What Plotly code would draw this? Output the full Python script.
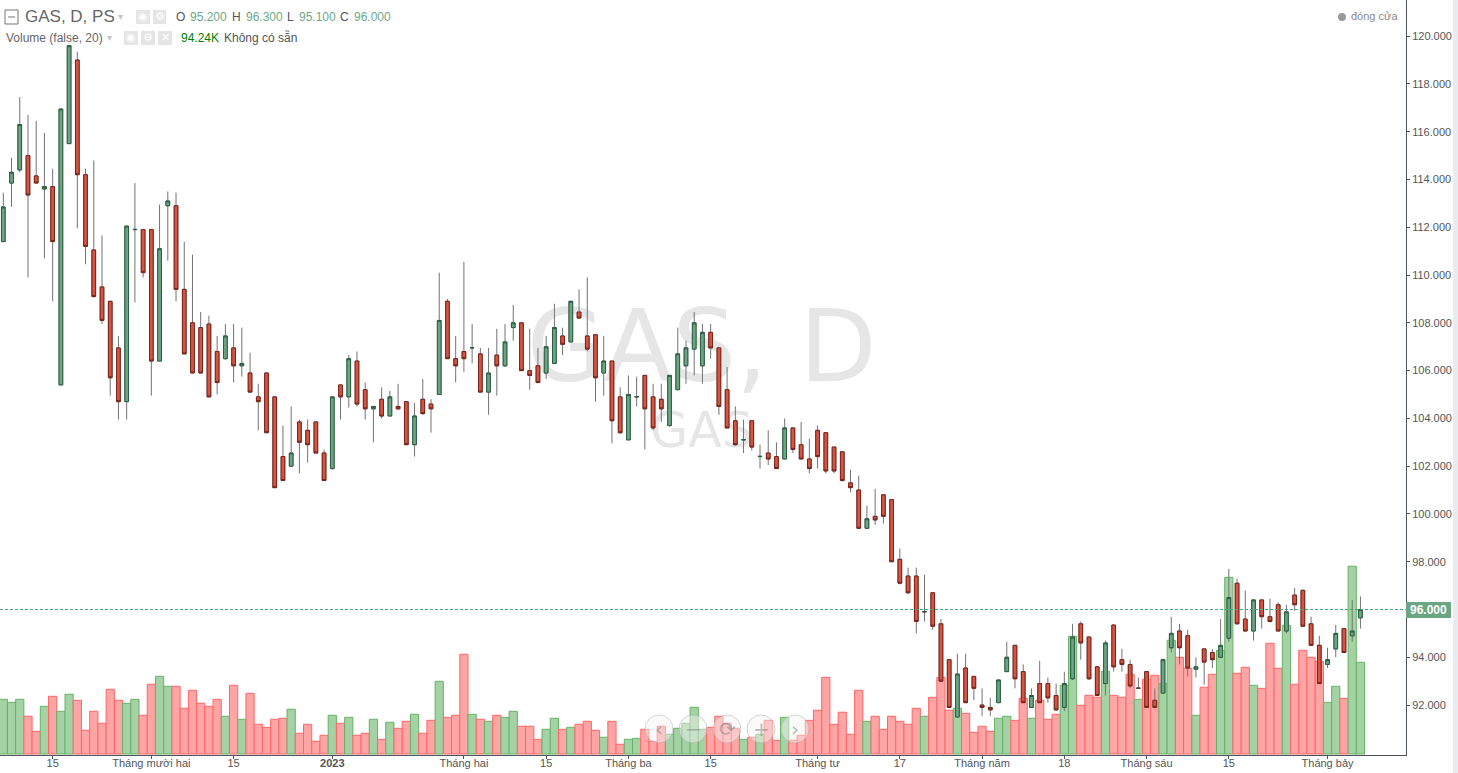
import plotly.graph_objects as go

opens = [111.4,113.85,114.4,115,114.15,113.6,113.7,105.4,115.5,119,
114.2,111.05,109.5,108.9,106.95,104.7,111.9,111.9,111.9,106.4,
112.9,112.9,109.4,108,107.8,107.95,106.8,106.5,106.95,106.2,
105.9,104.9,105.9,104.9,102.4,102,103.85,103.5,103.85,102.55,
101.9,105.4,104.9,106.4,105.2,104.4,104.8,104.1,104.5,104.7,
102.9,104.8,104.6,105,108.9,106.5,106.8,106.95,106.7,105.1,
106.65,106.2,107.8,108,106,106.2,105.9,106.3,107.45,107.2,
108.45,107.45,107.5,105.9,106.4,104.9,103.1,104.9,105.8,104.9,
104.8,103.7,105.2,106.2,106.9,106.2,107.6,106.95,105.2,103.9,
103.1,103.9,102.4,102.55,102.4,102.3,103.6,102.9,102.3,103.5,
103.4,102.8,102.6,101.3,101,99.4,99.9,100.8,100.6,98.1,
97.4,97.4,95.9,96.7,95.4,93.9,91.5,93.55,93.2,92,
91.9,92.1,93.4,94.5,93.4,91.9,92.9,92.9,92.4,91.9,
93.1,95.4,94.85,93.6,92.9,95.35,93.9,93.7,92.7,93.4,
92.2,92.5,94.4,95.1,94.9,93.5,94.35,94.2,94,94.8,
97.1,95.6,95.1,96.4,95.7,96.2,95.1,96.6,96.8,95.4,
94.5,93.7,94.35,95.2,94.9,95.65]

highs = [113.45,114.9,117.45,116.7,116.45,115.95,114.45,116.95,119.6,119.35,
114.45,114.8,111.65,108.9,107.45,112.05,113.85,111.9,111.9,112.95,
113.5,113.45,111.4,110.85,108.45,108.3,107.45,107.95,107.95,107.8,
106.75,105.45,105.9,104.9,103.7,104.5,103.95,103.95,103.85,102.7,
104.9,105.4,106.65,106.8,105.5,104.5,105.3,105.15,105.45,104.7,
104.65,105.65,104.8,110.1,109,107.45,110.55,107.95,106.95,106.95,
107.75,107.95,108.75,108,107.75,106.95,107.45,108.8,107.8,108.9,
109.4,109.9,107.5,107.45,106.4,105.3,105.8,105.75,105.8,105.45,
105.45,105.8,107.8,107.25,108.45,107.95,107.95,106.95,106.15,104.5,
103.95,103.9,102.9,103.5,103,104,103.6,103.85,103.15,103.7,
103.4,102.8,102.6,101.85,101.6,100.35,101.05,100.8,100.6,98.55,
97.75,97.75,97.45,96.7,95.6,93.9,94.15,94.15,93.2,92.7,
92.3,93.05,94.65,94.5,93.7,92.7,93.85,93.15,92.9,93.4,
95.4,95.5,94.85,93.6,94.7,95.35,94.35,93.9,93.15,93.4,
92.7,93.9,95.7,95.4,95.15,94,94.35,94.35,95.6,97.7,
97.3,96.8,96.4,96.4,96.45,96.3,96.2,96.9,96.85,95.7,
94.9,94.4,95.35,95.2,96.4,96.55]

lows = [111.4,112.85,114.3,109.9,113.85,110.7,108.9,105.4,115.5,111.95,
110.45,109.05,107.95,104.95,103.95,103.95,108.85,109.9,104.95,106.4,
110.6,108.9,106.7,105.9,105.9,104.9,105,106.45,105.5,105.75,
105.1,103.5,103.4,101.1,101.4,102,101.7,102.15,102.55,101.4,
101.85,103.95,104.45,104.5,103.95,103,104,104.1,104.35,102.9,
102.4,104.15,103.4,105,106.5,105.5,105.95,106.3,105.1,104.15,
104.95,106.15,107.25,106,105.2,105.5,105.65,106.3,106.65,107.2,
108.2,106.8,104.7,104.95,102.95,103.35,103.1,104.5,102.7,103.5,
103.85,103.65,105.2,105.45,105.8,105.45,106.5,104.15,103.6,102.85,
102.55,102.65,101.9,102.05,101.9,102.3,102.55,102.3,101.7,101.9,
101.7,101.7,101.35,100.9,99.4,99.4,99.55,99.6,98,97.05,
96.65,95,95.5,95.15,93,91.9,91.5,92.1,92.2,91.55,
91.55,92.1,93.4,92.7,92.1,91.9,92.1,92.1,91.75,91.75,
93.05,93.9,93.05,92.4,92.4,93.4,93.4,92.7,92.7,91.9,
91.9,92.5,94.2,93.7,93.2,93.15,92.85,93.55,94,94.65,
95.4,95.1,94.7,95.2,95.45,95.1,95,95.95,95.3,94.5,
92.9,93.55,94,94.2,94.65,95.2]

closes = [112.85,114.3,116.3,113.35,113.85,113.7,111.4,116.95,119.6,114.2,
111.2,109.1,108.1,105.7,104.7,112.05,111.91,110.1,106.4,111.1,
113.1,109.4,106.7,105.9,105.9,104.9,105.5,107.45,106.2,106.3,
105.1,104.7,103.4,101.1,101.4,102.55,103,102.9,102.55,101.4,
104.9,104.9,106.5,104.6,104.4,104.5,104.1,104.9,104.4,102.9,
104.1,104.2,104.4,108.1,106.5,106.2,106.5,106.96,105.1,105.9,
106.2,107.2,108,106,105.8,105.5,107,107.8,107.1,108.9,
108.2,106.9,105.7,106.4,103.9,103.4,105,104.91,104.4,103.6,
104.4,105.8,106.7,106.95,108,107.6,106.95,104.5,103.6,102.9,
103.11,102.8,102.41,102.3,101.9,103.6,102.7,102.3,101.9,102.4,
101.8,101.8,101.4,101.1,99.4,99.8,99.75,99.9,98,97.1,
96.7,95.5,95.91,95.3,93,91.9,93.3,92.1,92.7,91.9,
91.8,93.05,94,93.1,92.1,92.4,92.1,92.3,91.8,92.9,
94.85,94.6,93.1,92.4,94.6,93.6,93.7,92.8,92.71,91.9,
91.9,93.9,95,94.4,93.55,93.6,93.8,93.9,94.5,96.5,
95.4,95.1,96.4,95.7,95.5,95.1,95.9,96.2,95.3,94.5,
92.9,93.9,95,94.2,95.1,96]

volumes_k = [56.2,53.1,56.2,38.8,23.3,49.0,59.3,43.9,61.4,55.2,
24.4,43.9,31.6,66.5,55.2,52.1,56.2,39.8,71.7,79.9,
69.6,69.6,47.0,65.5,52.1,49.0,56.2,38.8,70.6,35.7,
62.4,30.5,27.4,35.7,36.7,46.0,21.3,30.5,13.1,19.2,
39.8,31.6,37.7,19.2,21.3,35.7,15.1,32.6,26.4,33.6,
40.8,21.3,34.6,74.7,37.7,39.8,102.5,40.8,35.7,33.6,
39.8,37.7,43.9,28.5,28.5,15.1,25.4,36.7,25.4,27.4,
30.5,33.6,24.4,17.2,33.6,10.0,15.1,16.1,25.4,13.1,
28.5,20.3,26.4,31.6,48.0,25.4,27.4,38.8,31.6,26.4,
15.1,17.2,20.3,34.6,14.1,37.7,14.1,19.2,34.6,44.9,
78.8,30.5,42.9,20.3,65.5,33.6,38.8,25.4,38.8,33.6,
30.5,47.0,38.8,58.3,78.8,44.9,47.0,41.8,22.3,28.5,
23.3,36.7,38.8,34.6,57.3,36.7,55.2,35.7,40.8,70.6,
121.0,50.1,60.3,58.3,85.0,60.3,58.3,81.9,56.2,76.8,
80.9,72.7,116.9,99.4,88.1,39.8,68.6,81.9,106.6,181.6,
83.0,89.1,70.6,67.5,113.8,88.1,132.3,71.7,106.6,99.4,
95.3,53.1,69.6,57.3,193.0,94.24]

x_tick_pos = [6,18,28,40,56,66,76,86,99,109,119,129,139,149,161]
x_tick_text = ["15","Tháng mười hai","15","<b>2023</b>","Tháng hai","15","Tháng ba","15",
               "Tháng tư","17","Tháng năm","18","Tháng sáu","15","Tháng bảy"]
y_ticks = [92,94,98,100,102,104,106,108,110,112,114,116,118,120]
y_tick_text = [f"{v}.000" for v in y_ticks]
last_close = 96

W,H = 1458,773
PL,PR,PT,PB = 0,1406,0,755
FONT = "Liberation Sans"
def px(x): return (x-PL)/(PR-PL)
def py(y): return 1-(y-PT)/(PB-PT)

n = len(closes)
xs = list(range(n))
fig = go.Figure()

vol_fill = ["#a5d2a5" if c>=o else "#ffa5a5" for o,c in zip(opens,closes)]
vol_line = ["#66b266" if c>=o else "#ff6666" for o,c in zip(opens,closes)]
fig.add_trace(go.Scatter(x=[84.9],y=[409],mode="text",text=["GAS, D"],textposition="middle center",
    textfont=dict(family="DejaVu Sans",size=100,color="#e6e6e6"),hoverinfo="skip",showlegend=False,cliponaxis=False))
fig.add_trace(go.Scatter(x=[84.9],y=[328],mode="text",text=["GAS"],textposition="middle center",
    textfont=dict(family="DejaVu Sans",size=49,color="#e6e6e6"),hoverinfo="skip",showlegend=False,cliponaxis=False))
fig.add_trace(go.Bar(x=xs,y=volumes_k,width=1,marker=dict(color=vol_fill,line=dict(color=vol_line,width=1)),
    hoverinfo="skip",showlegend=False))

wick="#737375"
fig.add_trace(go.Candlestick(x=xs,open=opens,high=highs,low=lows,close=closes,yaxis="y2",whiskerwidth=0,
    increasing=dict(line=dict(color=wick,width=1),fillcolor=wick),
    decreasing=dict(line=dict(color=wick,width=1),fillcolor=wick),showlegend=False,hoverinfo="skip"))
body_hi=[max(o,c) for o,c in zip(opens,closes)]
body_lo=[min(o,c) for o,c in zip(opens,closes)]
fig.add_trace(go.Candlestick(x=xs,open=opens,high=body_hi,low=body_lo,close=closes,yaxis="y2",whiskerwidth=0,
    increasing=dict(line=dict(color="#2a5f41",width=1),fillcolor="#6ba583"),
    decreasing=dict(line=dict(color="#7a2318",width=1),fillcolor="#d75442"),showlegend=False))

shapes=[dict(type="line",xref="paper",x0=0,x1=1,yref="y2",y0=last_close,y1=last_close,
             line=dict(color="#4aa577",width=1,dash="3px,2px"))]
ann=[]
def T(x,y,s,size=12,color="#555555",anchor="left",family=FONT):
    ann.append(dict(xref="paper",yref="paper",x=px(x),y=py(y),text=s,showarrow=False,xanchor=anchor,yanchor="middle",
                    font=dict(family=family,size=size,color=color),borderpad=0))
def R(x0,y0,x1,y1,fill,line=None,kind="rect",lw=1):
    shapes.append(dict(type=kind,xref="paper",yref="paper",x0=px(x0),x1=px(x1),y0=py(y0),y1=py(y1),
                       fillcolor=fill,line=dict(color=line or "rgba(0,0,0,0)",width=lw)))
G="#6fa888"
DJ="DejaVu Sans"
T(24,17,"GAS, D, PS",17,"#666666")
R(5,10,18,24,"rgba(0,0,0,0)","#777777")
R(8,17,15,17,"rgba(0,0,0,0)","#777777",kind="line")
T(117,17,"▾",10,"#c4c4c4")
R(136,10,150,24,"#e5e5e5"); R(153,10,166,24,"#e5e5e5")
T(143,17,"◉",11,"#ffffff",anchor="center",family=DJ); T(159.5,17,"⚙",11,"#ffffff",anchor="center",family=DJ)
T(175,17,"O",12,"#555555"); T(189,17,"95.200",12,G)
T(231,17,"H",12,"#555555"); T(245,17,"96.300",12,G)
T(286,17,"L",12,"#555555"); T(298,17,"95.100",12,G)
T(339,17,"C",12,"#555555"); T(353,17,"96.000",12,G)
T(5,38,"Volume (false, 20)",12,"#666666")
T(106,38,"▾",10,"#c4c4c4")
R(124,31,138,45,"#e5e5e5"); R(141,31,155,45,"#e5e5e5"); R(158,31,172,45,"#e5e5e5")
T(131,38,"◉",11,"#ffffff",anchor="center",family=DJ); T(148,38,"⚙",11,"#ffffff",anchor="center",family=DJ)
T(165,38,"✕",11,"#ffffff",anchor="center",family=DJ)
T(180,38,"94.24K",12,"#008000"); T(223,38,"Không có sẵn",12,"#555555")
R(1338,13,1346,21,"#999999",kind="circle")
T(1350,16,"đóng cửa",11,"#888888")
for cx,sym in zip([659,693,727,761,795],["‹","−","⟳","+","›"]):
    R(cx-14,715,cx+14,743,"rgba(245,245,245,0.45)","rgba(160,160,160,0.45)",kind="circle",lw=1)
    T(cx,729,sym,20,"rgba(120,120,120,0.5)",anchor="center",family=DJ)
R(1453,0,1458,773,"#e8ecef")
R(1406,602,1451,618,"#6ba583")
T(1428.5,610,"<b>96.000</b>",12,"#ffffff",anchor="center")

fig.update_layout(
    width=W,height=H,autosize=False,margin=dict(l=0,r=W-PR,t=0,b=H-PB),
    paper_bgcolor="white",plot_bgcolor="white",boxgap=0.36,barmode="overlay",showlegend=False,
    shapes=shapes,annotations=ann,font=dict(family=FONT,size=12,color="#555555"),hovermode=False,
    xaxis=dict(range=[-0.401,170.54],tickmode="array",tickvals=x_tick_pos,ticktext=x_tick_text,showgrid=False,
               showline=True,linecolor="#4c525e",linewidth=1,ticks="outside",ticklen=3,tickcolor="#4c525e",automargin=False,
               ticklabelstandoff=-5,rangeslider=dict(visible=False),zeroline=False,
               tickfont=dict(family=FONT,size=11,color="#555555")),
    yaxis=dict(range=[-1.03,775],visible=False,fixedrange=True,automargin=False),
    yaxis2=dict(range=[120-(755-36.14)/23.89,120+36.14/23.89],overlaying="y",side="right",anchor="x",tickmode="array",
                tickvals=y_ticks,ticktext=y_tick_text,showgrid=False,showline=True,linecolor="#4c525e",linewidth=1,
                ticks="outside",ticklen=3,tickcolor="#4c525e",zeroline=False,automargin=False,
                tickfont=dict(family=FONT,size=11,color="#555555")),
)
fig.write_html("out.html",config=dict(displayModeBar=False),
               post_script="document.body.style.margin='0';document.body.style.overflow='hidden';")
